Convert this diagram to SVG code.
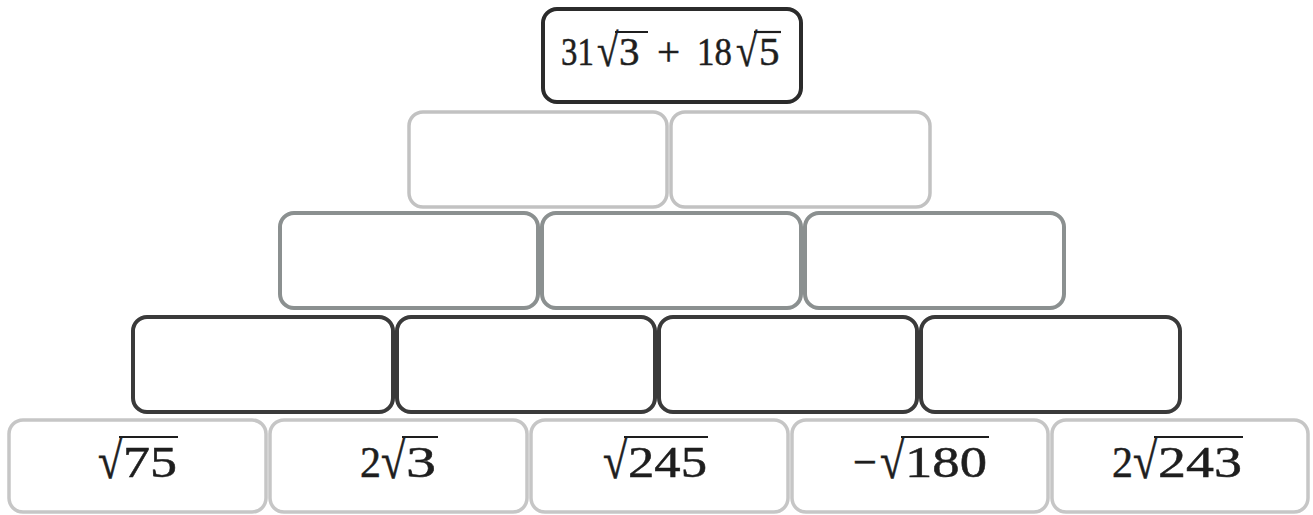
<svg xmlns="http://www.w3.org/2000/svg" width="1313" height="515" viewBox="0 0 1313 515">
<style>
.box{fill:#fff;rx:14px;ry:14px}
.r1{stroke:#2b2b2b;stroke-width:4}
.r2{stroke:#c2c2c2;stroke-width:3.5}
.r3{stroke:#8b9090;stroke-width:4}
.r4{stroke:#3a3a3a;stroke-width:4}
.r5{stroke:#c6c6c6;stroke-width:3.5}
.t{font-family:"Liberation Serif","DejaVu Serif",serif;fill:#1e1e1e;stroke:#1e1e1e;stroke-width:0.5}
.big{font-size:44px}
.top{font-size:41px}
.vin{stroke:#1e1e1e;stroke-width:2.2}
</style>
<rect width="1313" height="515" fill="#fff"/>
<g id="row1">
<g id="n-top"><rect class="box r1" x="543" y="9" width="258" height="93"/>
<text class="t top" transform="translate(561,65) scale(0.8,1)">31</text>
<text class="t top" transform="translate(597,66) scale(0.95,1.12)">√</text>
<text class="t top" x="619" y="65">3</text>
<text class="t top" x="657" y="65">+</text>
<text class="t top" transform="translate(697,65) scale(0.85,1)">18</text>
<text class="t top" transform="translate(736,66) scale(0.95,1.12)">√</text>
<text class="t top" x="759" y="65">5</text>
<line class="vin" x1="615" y1="32" x2="648" y2="32"/><line class="vin" x1="754" y1="32" x2="781" y2="32"/>
</g>
</g>
<g id="row2">
<g id="n2a"><rect class="box r2" x="409" y="112" width="258" height="95"/></g>
<g id="n2b"><rect class="box r2" x="671" y="112" width="259" height="95"/></g>
</g>
<g id="row3">
<g id="n3a"><rect class="box r3" x="280" y="213" width="258" height="95"/></g>
<g id="n3b"><rect class="box r3" x="542" y="213" width="259" height="95"/></g>
<g id="n3c"><rect class="box r3" x="805" y="213" width="259" height="95"/></g>
</g>
<g id="row4">
<g id="n4a"><rect class="box r4" x="133" y="317" width="260" height="95"/></g>
<g id="n4b"><rect class="box r4" x="397" y="317" width="258" height="95"/></g>
<g id="n4c"><rect class="box r4" x="659" y="317" width="258" height="95"/></g>
<g id="n4d"><rect class="box r4" x="921" y="317" width="259" height="95"/></g>
</g>
<g id="row5">
<g id="n5a"><rect class="box r5" x="9" y="420" width="257" height="92"/>
<text class="t big" transform="translate(98,478) scale(1,1.16)">√</text>
<text class="t big" x="123" y="477" textLength="54" lengthAdjust="spacingAndGlyphs">75</text>
<line class="vin" x1="119" y1="437" x2="178" y2="437"/></g>
<g id="n5b"><rect class="box r5" x="270" y="420" width="257" height="92"/>
<text class="t big" x="360" y="477" textLength="21" lengthAdjust="spacingAndGlyphs">2</text>
<text class="t big" transform="translate(381,478) scale(1,1.16)">√</text>
<text class="t big" x="406" y="477" textLength="30" lengthAdjust="spacingAndGlyphs">3</text>
<line class="vin" x1="402" y1="437" x2="438" y2="437"/></g>
<g id="n5c"><rect class="box r5" x="531" y="420" width="257" height="92"/>
<text class="t big" transform="translate(603,478) scale(1,1.16)">√</text>
<text class="t big" x="628" y="477" textLength="79" lengthAdjust="spacingAndGlyphs">245</text>
<line class="vin" x1="624" y1="437" x2="708" y2="437"/></g>
<g id="n5d"><rect class="box r5" x="792" y="420" width="256" height="92"/>
<text class="t big" x="853" y="477" textLength="24" lengthAdjust="spacingAndGlyphs">−</text>
<text class="t big" transform="translate(880,478) scale(1,1.16)">√</text>
<text class="t big" x="905" y="477" textLength="82" lengthAdjust="spacingAndGlyphs">180</text>
<line class="vin" x1="901" y1="437" x2="989" y2="437"/></g>
<g id="n5e"><rect class="box r5" x="1052" y="420" width="256" height="92"/>
<text class="t big" x="1112" y="477" textLength="21" lengthAdjust="spacingAndGlyphs">2</text>
<text class="t big" transform="translate(1133,478) scale(1,1.16)">√</text>
<text class="t big" x="1158" y="477" textLength="84" lengthAdjust="spacingAndGlyphs">243</text>
<line class="vin" x1="1154" y1="437" x2="1243" y2="437"/></g>
</g>
<g id="connectors"></g>
</svg>
